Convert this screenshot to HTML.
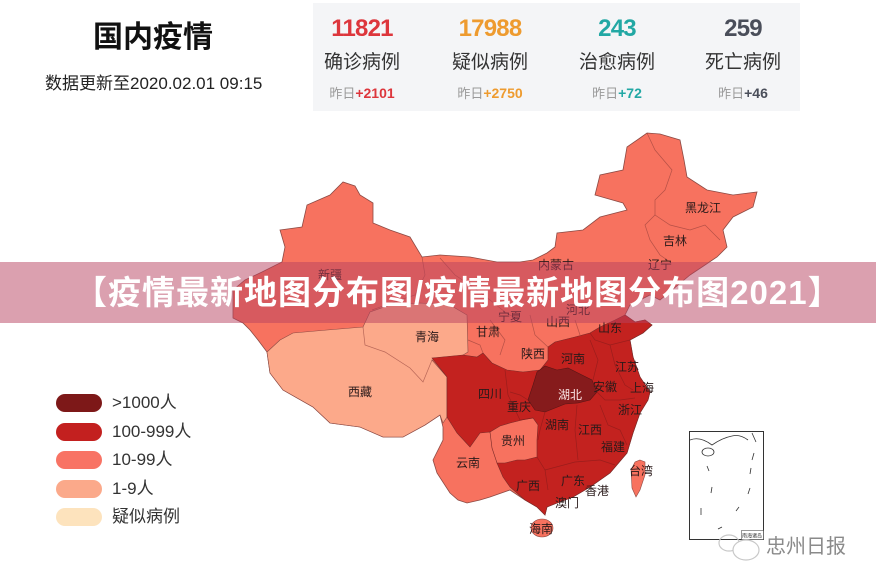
<!DOCTYPE html>
<html>
<head>
<meta charset="utf-8">
<style>
html,body{margin:0;padding:0;background:#fff;}
body{width:876px;height:586px;position:relative;overflow:hidden;font-family:"Liberation Sans","Noto Sans CJK SC",sans-serif;}
.abs{position:absolute;}
.title{left:93px;top:22px;font-size:30px;line-height:32px;font-weight:bold;color:#111;letter-spacing:0px;}
.ts{left:45px;top:74px;font-size:17px;line-height:19px;color:#222;}
.box{left:313px;top:3px;width:487px;height:108px;background:#f4f5f7;}
.col{width:124px;text-align:center;}
.num{top:16px;font-size:24px;line-height:26px;font-weight:bold;letter-spacing:-0.8px;}
.lab{top:53px;font-size:19px;line-height:20px;color:#333;}
.yd{top:85px;font-size:13px;line-height:16px;color:#9a9a9a;}
.yd b{font-family:"Liberation Sans",sans-serif;font-size:14px;}
.banner{left:0;top:262px;width:876px;height:61px;background:rgba(183,66,96,0.5);}
.btext{left:74px;top:275px;font-size:33px;line-height:36px;font-weight:bold;color:#fff;white-space:nowrap;letter-spacing:1px;font-family:"Liberation Sans","Noto Sans CJK SC",sans-serif;}
.leg{left:56px;width:46px;height:18px;border-radius:9px;}
.legt{left:112px;font-size:17px;line-height:20px;color:#333;}
.wm{left:766px;top:536px;font-size:20px;line-height:22px;color:#8a8a8a;}
</style>
</head>
<body>
<div class="abs title">国内疫情</div>
<div class="abs ts">数据更新至2020.02.01 09:15</div>

<div class="abs box"></div>
<div class="abs col num" style="left:300px;color:#dd363c;">11821</div>
<div class="abs col lab" style="left:300px;">确诊病例</div>
<div class="abs col yd" style="left:300px;">昨日<b style="color:#dd363c;">+2101</b></div>

<div class="abs col num" style="left:428px;color:#ee9b2f;">17988</div>
<div class="abs col lab" style="left:428px;">疑似病例</div>
<div class="abs col yd" style="left:428px;">昨日<b style="color:#ee9b2f;">+2750</b></div>

<div class="abs col num" style="left:555px;color:#22a8a4;">243</div>
<div class="abs col lab" style="left:555px;">治愈病例</div>
<div class="abs col yd" style="left:555px;">昨日<b style="color:#22a8a4;">+72</b></div>

<div class="abs col num" style="left:681px;color:#4a4e5a;">259</div>
<div class="abs col lab" style="left:681px;">死亡病例</div>
<div class="abs col yd" style="left:681px;">昨日<b style="color:#4a4e5a;">+46</b></div>

<svg class="abs" style="left:0;top:0" width="876" height="586" viewBox="0 0 876 586">
  <!-- base country (10-99) -->
  <polygon fill="#f7725f" stroke="#8c4a44" stroke-width="0.8" points="
  280,230 302,227 307,205 330,195 343,182 355,186 360,195 373,203 373,223 390,230 410,237 422,257
  440,255 470,257 497,262 520,262 533,260 547,253 555,247 557,233 583,230 600,217 627,210 623,203
  595,195 600,175 623,170 627,147 640,138 647,133 660,134 680,140 684,160 687,177 707,190 733,195
  757,192 753,207 733,217 723,230 727,247 717,257 705,265 690,275 672,290 660,300 650,295 640,300
  630,305 625,315 635,322 645,320 652,325 643,333 630,340 633,357 640,377 650,392 648,400 640,413
  633,433 627,453 610,473 590,487 573,497 557,503 547,507 545,515 537,507 525,500 510,490 490,497
  480,500 467,503 458,500 450,493 437,473 433,460 443,440 443,427 440,415 425,425 403,437 383,437
  360,427 330,423 313,407 283,390 270,373 267,352 258,340 250,330 243,323 233,318 233,290 245,280
  262,272 282,262 285,247"/>
  <!-- Tibet + Qinghai (1-9) -->
  <polygon fill="#fca98a" stroke="#8c4a44" stroke-width="0.6" points="
  267,352 280,340 293,333 327,330 363,327 370,312 390,305 420,303 450,305 467,315 468,352 455,360
  432,360 447,377 447,417 443,423 440,415 425,425 403,437 383,437 360,427 330,423 313,407 283,390 270,373"/>
  <!-- 100-999 region -->
  <polygon fill="#c3221f" stroke="#7a2a28" stroke-width="0.6" points="
  432,358 463,355 477,357 483,353 492,363 507,370 523,372 540,370 548,360 548,347 555,342 575,337
  590,333 600,327 615,320 625,315 635,322 645,320 652,325 643,333 630,340 633,357 640,377 650,392
  648,400 640,413 633,433 627,453 610,473 590,487 573,497 557,503 547,507 545,515 537,507 525,500
  510,487 503,477 497,463 490,432 480,433 470,447 457,433 447,417 447,377"/>
  <!-- Guizhou (10-99) -->
  <polygon fill="#f7725f" stroke="#7a2a28" stroke-width="0.6" points="
  490,432 500,426 510,423 522,420 533,418 538,425 537,440 537,457 525,460 517,460 505,463 497,463 492,448"/>
  <!-- Hubei (>1000) -->
  <polygon fill="#861b1c" stroke="#5a1515" stroke-width="0.6" points="
  533,385 537,372 545,366 557,370 568,368 580,374 592,380 597,392 590,400 578,403 565,404 555,408 545,412 535,410 528,400"/>
  <!-- Taiwan -->
  <polygon fill="#f7725f" stroke="#8c4a44" stroke-width="0.6" points="640,460 645,462 645,475 640,490 636,497 632,488 631,470 635,462"/>
  <!-- Hainan -->
  <ellipse cx="542" cy="528" rx="11" ry="9" fill="#f7725f" stroke="#8c4a44" stroke-width="0.6"/>
  <!-- province borders -->
  <g fill="none" stroke="#8a3a36" stroke-width="0.7" stroke-opacity="0.6">
    <polyline points="422,257 425,275 415,295 400,300 372,310"/>
    <polyline points="363,327 365,345 385,352 410,368 423,382 432,360"/>
    <polyline points="440,258 455,275 470,285 490,300 505,312 515,318"/>
    <polyline points="647,133 655,150 672,170 665,190 655,200 655,215"/>
    <polyline points="655,215 670,225 690,230 705,225 720,240"/>
    <polyline points="655,215 645,225 650,240 660,255 670,262"/>
    <polyline points="490,320 505,340 500,355"/>
    <polyline points="530,315 535,335 548,347"/>
    <polyline points="468,340 480,345 483,353"/>
    <polyline points="575,320 580,335"/>
  </g>
  <g fill="none" stroke="#7a1a1a" stroke-width="0.7" stroke-opacity="0.55">
    <polyline points="505,370 508,395 520,420"/>
    <polyline points="520,420 533,418"/>
    <polyline points="528,400 520,395 510,392"/>
    <polyline points="590,340 598,360 593,380"/>
    <polyline points="610,345 615,365 625,385 633,390"/>
    <polyline points="597,392 605,400 620,400 635,398"/>
    <polyline points="600,405 608,425 620,430 627,445"/>
    <polyline points="577,405 575,430 578,460"/>
    <polyline points="545,470 575,462 600,460 615,465"/>
    <polyline points="537,457 545,470 548,490"/>
    <polyline points="545,412 540,430 538,440"/>
    <polyline points="590,333 595,340 610,345 630,340"/>
  </g>
  <!-- labels -->
  <g font-family="Liberation Sans,Noto Sans CJK SC,sans-serif" font-size="12" fill="#2a1a1a" text-anchor="middle">
    <text x="703" y="212">黑龙江</text>
    <text x="675" y="245">吉林</text>
    <text x="660" y="269">辽宁</text>
    <text x="556" y="269">内蒙古</text>
    <text x="330" y="279">新疆</text>
    <text x="510" y="321">宁夏</text>
    <text x="578" y="314">河北</text>
    <text x="558" y="326">山西</text>
    <text x="610" y="332">山东</text>
    <text x="488" y="336">甘肃</text>
    <text x="427" y="341">青海</text>
    <text x="533" y="358">陕西</text>
    <text x="573" y="363">河南</text>
    <text x="627" y="371">江苏</text>
    <text x="490" y="398">四川</text>
    <text x="570" y="399" fill="#fbe7e7">湖北</text>
    <text x="605" y="391">安徽</text>
    <text x="642" y="392">上海</text>
    <text x="360" y="396">西藏</text>
    <text x="519" y="411">重庆</text>
    <text x="630" y="414">浙江</text>
    <text x="557" y="429">湖南</text>
    <text x="590" y="434">江西</text>
    <text x="513" y="445">贵州</text>
    <text x="613" y="451">福建</text>
    <text x="468" y="467">云南</text>
    <text x="641" y="475">台湾</text>
    <text x="528" y="490">广西</text>
    <text x="573" y="485">广东</text>
    <text x="597" y="495">香港</text>
    <text x="567" y="507">澳门</text>
    <text x="541" y="533">海南</text>
  </g>
  <!-- South China Sea inset -->
  <rect x="689.5" y="431.5" width="74" height="108" fill="#fff" stroke="#333" stroke-width="1"/>
  <g fill="none" stroke="#333" stroke-width="0.8">
    <path d="M690,440 Q700,436 712,445 Q722,438 732,436 Q740,434 748,440 M752,433 L756,442"/>
    <ellipse cx="708" cy="452" rx="6" ry="4"/>
    <line x1="707" y1="466" x2="709" y2="471"/>
    <line x1="754" y1="453" x2="752" y2="460"/>
    <line x1="751" y1="468" x2="750" y2="474"/>
    <line x1="712" y1="487" x2="711" y2="493"/>
    <line x1="750" y1="488" x2="748" y2="494"/>
    <line x1="701" y1="508" x2="701" y2="515"/>
    <line x1="739" y1="507" x2="736" y2="511"/>
    <line x1="722" y1="527" x2="718" y2="529"/>
  </g>
  <rect x="741.5" y="530.5" width="22" height="9" fill="#fff" stroke="#555" stroke-width="0.6"/>
  <text x="752" y="537.5" font-size="5" text-anchor="middle" fill="#333" font-family="Noto Sans CJK SC,sans-serif">南海诸岛</text>
  <!-- watermark icon -->
  <g fill="none" stroke="#c8c8c8" stroke-width="1.2">
    <ellipse cx="729" cy="543" rx="10" ry="8"/>
    <ellipse cx="746" cy="550" rx="13" ry="10" fill="#fff"/>
  </g>
</svg>

<div class="abs banner"></div>
<div class="abs btext">【疫情最新地图分布图/疫情最新地图分布图2021】</div>

<div class="abs leg" style="top:394px;background:#7d1818;"></div>
<div class="abs legt" style="top:393px;">&gt;1000人</div>
<div class="abs leg" style="top:423px;background:#c3201f;"></div>
<div class="abs legt" style="top:422px;">100-999人</div>
<div class="abs leg" style="top:451px;background:#f87364;"></div>
<div class="abs legt" style="top:450px;">10-99人</div>
<div class="abs leg" style="top:480px;background:#fba98a;"></div>
<div class="abs legt" style="top:479px;">1-9人</div>
<div class="abs leg" style="top:508px;background:#fde3bd;"></div>
<div class="abs legt" style="top:507px;">疑似病例</div>

<div class="abs wm">忠州日报</div>
</body>
</html>
